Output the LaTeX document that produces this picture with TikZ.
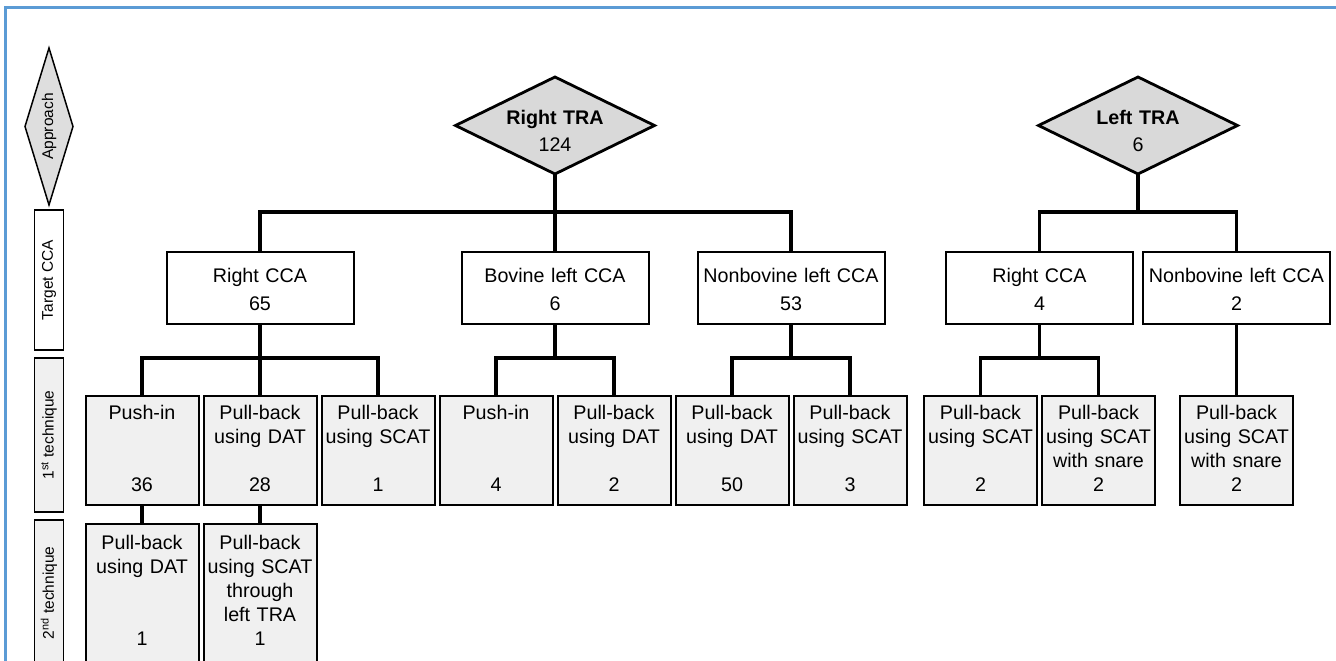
\documentclass[tikz,border=0pt]{standalone}
\usepackage{fontspec}
\setmainfont{Liberation Sans}
\usetikzlibrary{shapes.geometric, positioning, calc}
\definecolor{frameblue}{RGB}{91,155,213}
\tikzset{approach/.style={draw, diamond, fill=black!15, line width=2.8pt, outer sep=0pt, shape aspect=2, minimum width=199pt, minimum height=97pt, inner sep=0pt, text width=110pt, align=center, text height=14pt, text depth=15pt}}
\tikzset{target/.style={draw, fill=white, line width=2pt, outer sep=0pt, inner sep=0pt, text width=187pt, align=center, text height=31pt, text depth=41pt}}
\tikzset{technique/.style={draw, fill=black!6, line width=2pt, outer sep=0pt, inner sep=0pt, text width=113pt, align=center, text height=24pt, text depth=85pt}}
\tikzset{second/.style={technique, text height=26pt, text depth=200pt}}
\tikzset{link/.style={line width=3.4pt}}
\tikzset{rowkey/.style={draw, rotate=90, line width=1.5pt, outer sep=0pt, minimum height=29pt, inner sep=0pt, font=\fontsize{15.5}{18}\selectfont}}

\begin{document}
\begin{tikzpicture}[x=1pt, y=1pt, font=\fontsize{19.7}{23.8}\selectfont, node distance=5pt]
\path[use as bounding box, clip] (0,0) rectangle (1336,661);
\draw[frameblue, line width=2.5pt] (5.5,-5) -- (5.5,653.5) -- (1341,653.5);

% row keys
\node[rowkey, diamond, fill=black!13, shape aspect=2.6, minimum width=157pt, minimum height=48pt] (approachkey) at (49,534.5) {Approach};
\node[rowkey, fill=white, minimum width=140pt] (targetkey) at (49,381) {Target CCA};
\node[rowkey, fill=black!6, minimum width=154pt] (firstkey) at (49,226) {1\textsuperscript{st} technique};
\node[rowkey, fill=black!6, minimum width=146pt] (secondkey) at (49,68) {2\textsuperscript{nd} technique};

% 1st technique
\node[technique, anchor=north] (rpushin) at (142,265) {Push-in\\~\\~\\36};
\node[technique, right=of rpushin] (rdat) {Pull-back\\using DAT\\~\\28};
\node[technique, right=of rdat] (rscat) {Pull-back\\using SCAT\\~\\1};
\node[technique, right=of rscat] (bpushin) {Push-in\\~\\~\\4};
\node[technique, right=of bpushin] (bdat) {Pull-back\\using DAT\\~\\2};
\node[technique, right=of bdat] (ndat) {Pull-back\\using DAT\\~\\50};
\node[technique, right=of ndat] (nscat) {Pull-back\\using SCAT\\~\\3};
\node[technique, right=17.5pt of nscat] (lscat) {Pull-back\\using SCAT\\~\\2};
\node[technique, right=of lscat] (lsnare) {Pull-back\\using SCAT\\with snare\\2};
\node[technique, right=25pt of lsnare] (lnsnare) {Pull-back\\using SCAT\\with snare\\2};

% 2nd technique
\node[second, below=19pt of rpushin] (rpushdat) {Pull-back\\using DAT\\~\\~\\1};
\node[second, below=19pt of rdat] (rdatscat) {Pull-back\\using SCAT\\through\\left TRA\\1};

% target CCA
\node[target, above=72pt of rdat] (rightcca) {Right CCA\\[4pt]65};
\coordinate (bovmid) at ($(bpushin.north)!0.5!(bdat.north)$);
\node[target, above=72pt of bovmid] (bovinecca) {Bovine left CCA\\[4pt]6};
\coordinate (nonbovmid) at ($(ndat.north)!0.5!(nscat.north)$);
\node[target, above=72pt of nonbovmid] (nonbovinecca) {Nonbovine left CCA\\[4pt]53};
\coordinate (leftmid) at ($(lscat.north)!0.5!(lsnare.north)$);
\node[target, above=72pt of leftmid] (leftrightcca) {Right CCA\\[4pt]4};
\node[target, above=72pt of lnsnare] (leftnoncca) {Nonbovine left CCA\\[4pt]2};

% approach
\node[approach, above=78pt of bovinecca] (righttra) {\textbf{Right TRA}\\[3.2pt]124};
\coordinate (leftccamid) at ($(leftrightcca.north)!0.5!(leftnoncca.north)$);
\node[approach, above=78pt of leftccamid] (lefttra) {\textbf{Left TRA}\\[3.2pt]6};

% connectors
\coordinate[below=38pt of righttra.south] (rtrabus);
\coordinate[below=38pt of lefttra.south] (ltrabus);
\coordinate[below=34pt of rightcca.south] (rccabus);
\coordinate[below=34pt of bovinecca.south] (bovbus);
\coordinate[below=34pt of nonbovinecca.south] (nonbovbus);
\coordinate[below=34pt of leftrightcca.south] (lccabus);

\draw[link] (righttra.south) -- (rtrabus) -| (rightcca.north);
\draw[link] (rtrabus) -| (nonbovinecca.north);
\draw[link] (rtrabus) -- (bovinecca.north);
\draw[link] (lefttra.south) -- (ltrabus) -| (leftrightcca.north);
\draw[link] (ltrabus) -| (leftnoncca.north);

\draw[link] (rightcca.south) -- (rccabus) -| (rpushin.north);
\draw[link] (rccabus) -| (rscat.north);
\draw[link] (rccabus) -- (rdat.north);
\draw[link] (bovinecca.south) -- (bovbus) -| (bpushin.north);
\draw[link] (bovbus) -| (bdat.north);
\draw[link] (nonbovinecca.south) -- (nonbovbus) -| (ndat.north);
\draw[link] (nonbovbus) -| (nscat.north);
\draw[link] (leftrightcca.south) -- (lccabus) -| (lscat.north);
\draw[link] (lccabus) -| (lsnare.north);
\draw[link] (leftnoncca.south) -- (lnsnare.north);

\draw[link] (rpushin.south) -- (rpushdat.north);
\draw[link] (rdat.south) -- (rdatscat.north);
\end{tikzpicture}
\end{document}
